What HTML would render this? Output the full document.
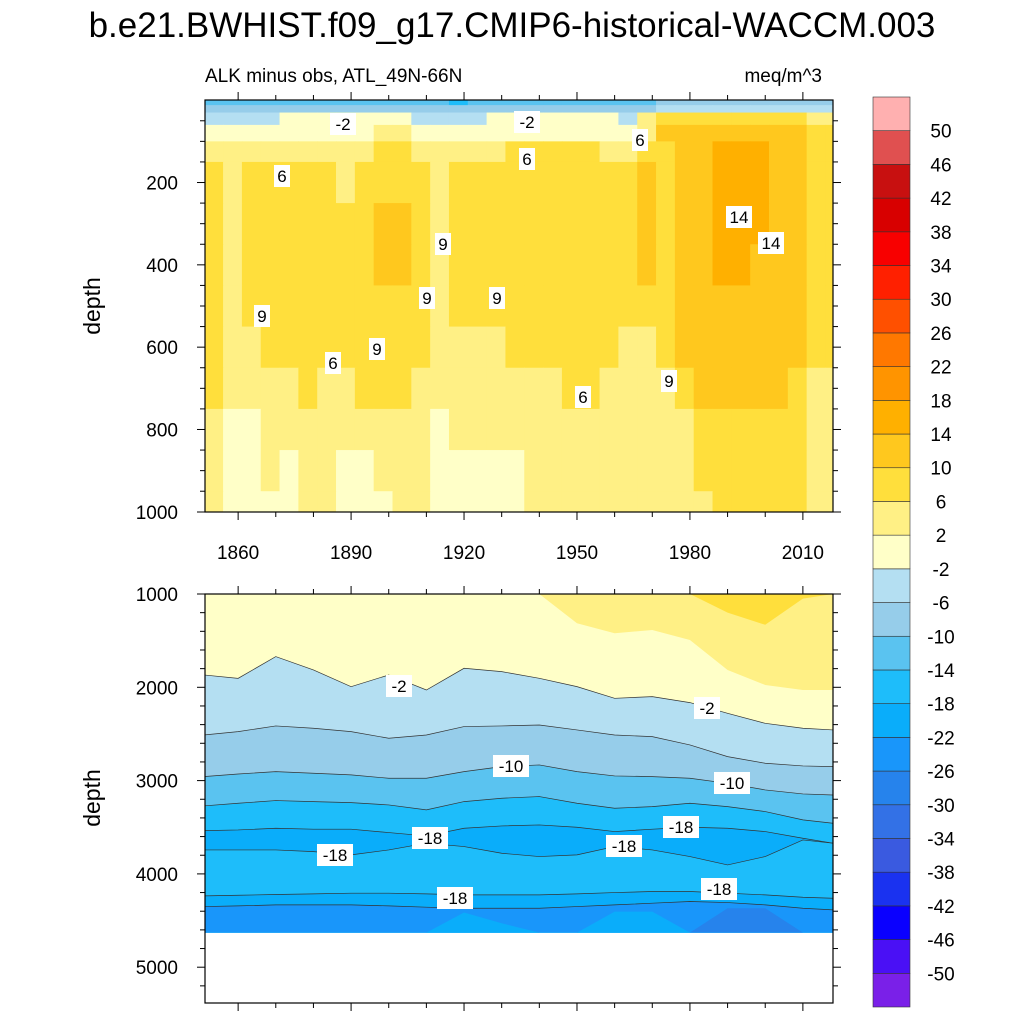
<!DOCTYPE html>
<html><head><meta charset="utf-8"><style>
html,body{margin:0;padding:0;background:#fff;}
svg{display:block;font-family:"Liberation Sans",sans-serif;}
</style></head><body>
<svg id="chart" width="1024" height="1024" viewBox="0 0 1024 1024" xmlns="http://www.w3.org/2000/svg">
<text x="512" y="37" font-size="35" text-anchor="middle">b.e21.BWHIST.f09_g17.CMIP6-historical-WACCM.003</text>
<text x="205" y="82" font-size="19">ALK minus obs, ATL_49N-66N</text>
<text x="822" y="82" font-size="19" text-anchor="end">meq/m^3</text>
<defs>
<clipPath id="clipTop"><rect x="205" y="100" width="628" height="412"/></clipPath>
<clipPath id="clipBot"><rect x="205" y="594" width="628" height="409"/></clipPath>
</defs>
<g id="topData" clip-path="url(#clipTop)"></g>
<g id="botData" clip-path="url(#clipBot)"></g>
<g id="axes"></g>
<g id="labels"></g>
<g id="cbar"></g>
</svg>
<script>
const NS="http://www.w3.org/2000/svg";
// colour levels
const levelBounds=[-50,-46,-42,-38,-34,-30,-26,-22,-18,-14,-10,-6,-2,2,6,10,14,18,22,26,30,34,38,42,46,50];
const levelColors=["#7a20e8","#4a10f5","#0a00ff","#1a32f0","#3a5ae0","#3371e6","#2683ec","#1996fa","#0aadfa","#1ebdfa","#5ac3f0","#96cdea","#b4dff2","#ffffc8","#fff085","#ffdf3c","#ffc81e","#ffb000","#ff9400","#ff7800","#ff5000","#ff2000","#f80000","#d80000","#c81010","#e05050","#ffb0b0"];
// x axis
const xTickYears=[1860,1890,1920,1950,1980,2010];
const topDepthTicks=[200,400,600,800,1000];
const botDepthTicks=[1000,2000,3000,4000,5000];
// upper panel grid: columns start years, depth edges, values per depth row
const topColStart=[1851,1856,1861,1866,1871,1876,1881,1886,1891,1896,1901,1906,1911,1916,1921,1926,1931,1936,1941,1946,1951,1956,1961,1966,1971,1976,1981,1986,1991,1996,2001,2006,2011,2016];
const topDepthEdges=[0,12,30,60,100,150,250,350,450,550,650,750,850,950,1000];
const topR0=[-12,-12,-12,-12,-12,-12,-12,-12,-12,-12,-12,-12,-12,-16,-12,-12,-12,-12,-12,-12,-12,-12,-12,-12,-8,-8,-8,-8,-8,-8,-8,-8,-8,-8];
const topR1=[-8,-8,-8,-8,-8,-8,-8,-8,-8,-8,-8,-8,-8,-8,-8,-8,-8,-8,-8,-8,-8,-8,-8,-8,-4,-4,-4,-4,-4,-4,-4,-4,-4,-4];
const topR2=[-4,-4,-4,-4,0,0,0,0,0,0,0,-4,-4,-4,-4,0,0,0,0,0,0,0,-4,4,8,8,8,8,8,8,8,8,4,4];
const topR3=[0,0,0,0,0,0,0,0,0,4,4,0,0,0,0,0,0,0,0,0,0,0,0,4,12,12,12,12,12,12,12,12,8,8];
const topR4=[4,4,4,4,4,4,4,4,4,8,8,4,4,4,4,4,8,8,8,8,8,4,4,8,8,12,12,16,16,16,12,12,8,8];
const topR5=[8,4,8,8,8,8,8,4,8,8,8,8,4,8,8,8,8,8,8,8,8,8,8,12,8,12,12,16,16,16,12,12,8,8];
const topR6=[8,4,8,8,8,8,8,8,8,12,12,8,4,8,8,8,8,8,8,8,8,8,8,12,8,12,12,16,16,16,12,12,8,8];
const topR7=[8,4,8,8,8,8,8,8,8,12,12,8,4,8,8,8,8,8,8,8,8,8,8,12,8,12,12,16,16,12,12,12,8,8];
const topR8=[8,4,8,8,8,8,8,8,8,8,8,8,4,8,8,8,8,8,8,8,8,8,8,8,8,12,12,12,12,12,12,12,8,8];
const topR9=[8,4,4,8,8,8,8,8,8,8,8,8,4,4,4,4,8,8,8,8,8,8,4,4,8,12,12,12,12,12,12,12,8,8];
const topR10=[8,4,4,4,4,8,4,4,8,8,8,4,4,4,4,4,4,4,4,8,8,4,4,4,4,8,12,12,12,12,12,8,4,4];
const topR11=[4,0,0,4,4,4,4,4,4,4,4,4,0,4,4,4,4,4,4,4,4,4,4,4,4,4,8,8,8,8,8,8,4,4];
const topR12=[4,0,0,4,0,4,4,0,0,4,4,4,0,0,0,0,0,4,4,4,4,4,4,4,4,4,8,8,8,8,8,8,4,4];
const topR13=[4,0,0,0,0,4,4,0,0,0,4,4,0,0,0,0,0,4,4,4,4,4,4,4,4,4,4,8,8,8,8,8,4,4];
const topRows=[topR0,topR1,topR2,topR3,topR4,topR5,topR6,topR7,topR8,topR9,topR10,topR11,topR12,topR13];
// lower panel: contour depths at sample years
const botYears=[1851,1860,1870,1880,1890,1900,1910,1920,1930,1940,1950,1960,1970,1980,1990,2000,2010,2018];
const botC0=[1000,1000,1000,1000,1000,1000,1000,1000,1000,1000,1314,1421,1386,1493,1814,1975,2029,2029];
const botC0b=[1000,1000,1000,1000,1000,1000,1000,1000,1000,1000,1000,1000,1000,1000,1200,1330,1050,1000];
const botC1=[1868,1904,1671,1814,1993,1868,2029,1796,1832,1904,1993,2118,2100,2164,2279,2386,2439,2457];
const botC2=[2511,2475,2414,2439,2475,2546,2511,2421,2414,2404,2457,2511,2529,2618,2743,2814,2843,2850];
const botC3=[2957,2929,2904,2921,2939,2975,2975,2904,2850,2832,2904,2950,2957,2975,3029,3100,3143,3154];
const botC4=[3271,3243,3214,3225,3236,3261,3314,3225,3189,3171,3243,3296,3279,3243,3279,3332,3421,3457];
const botC5=[3536,3529,3511,3521,3521,3557,3593,3511,3486,3475,3500,3546,3521,3500,3511,3546,3618,3671];
const botC6=[3743,3743,3743,3761,3796,3743,3671,3707,3779,3814,3796,3707,3743,3814,3904,3814,3636,3671];
const botC7=[4236,4229,4221,4214,4207,4207,4214,4225,4225,4225,4214,4200,4189,4189,4207,4225,4250,4261];
const botC8=[4350,4343,4332,4332,4332,4343,4357,4368,4368,4368,4350,4332,4314,4296,4307,4332,4368,4386];
const botC9=[4630,4630,4630,4630,4630,4630,4630,4414,4529,4630,4630,4404,4404,4630,4630,4630,4630,4630];
const botC10=[4630,4630,4630,4630,4630,4630,4630,4630,4630,4630,4630,4630,4630,4630,4368,4368,4630,4630];
const botBelowBounds=[botC1,botC2,botC3,botC4,botC5,botC6,botC7,botC8,botC9,botC10];
const botBelowValues=[-4,-8,-12,-16,-20,-16,-20,-24,-20,-28];
const botLineBounds=[botC1,botC2,botC3,botC4,botC5,botC6,botC7,botC8];

const X0=205,X1=833,YR0=1851.2,YR1=2018;
const xs=y=>X0+(y-YR0)*(X1-X0)/(YR1-YR0);
const yT=d=>100.2+d*0.4116;
const yB=d=>594+(d-1000)*0.0933;
const dataBottom=4630;
function colorOf(v){let i=0;while(i<levelBounds.length&&v>=levelBounds[i])i++;return levelColors[i];}
function mk(tag,attrs,parent){const e=document.createElementNS(NS,tag);for(const k in attrs)e.setAttribute(k,attrs[k]);parent.appendChild(e);return e;}

// upper panel cells
const gT=document.getElementById('topData');
topRows.forEach((row,r)=>{row.forEach((v,c)=>{
  const x=xs(topColStart[c]),w=xs(topColStart[c]+5)-x;
  const y=yT(topDepthEdges[r]),h=yT(topDepthEdges[r+1])-y;
  const e=mk('rect',{x:x.toFixed(2),y:y.toFixed(2),width:(w+0.6).toFixed(2),height:(h+0.6).toFixed(2),fill:colorOf(v)},gT);
  
  
});});

// lower panel
const gB=document.getElementById('botData');
function ptsOf(arr){return botYears.map((yr,i)=>xs(yr).toFixed(2)+','+yB(arr[i]).toFixed(2));}
const base=mk('rect',{x:X0,y:yB(1000),width:X1-X0,height:yB(dataBottom)-yB(1000),fill:colorOf(0)},gB);


[[botC0,4],[botC0b,8]].forEach(([arr,v])=>{
  const p=ptsOf(arr);
  const poly=mk('polygon',{points:xs(botYears[0])+','+yB(1000)+' '+p.join(' ')+' '+xs(botYears[botYears.length-1])+','+yB(1000),fill:colorOf(v)},gB);
  
  
});
botBelowBounds.forEach((arr,k)=>{
  const p=ptsOf(arr);
  const poly=mk('polygon',{points:p.join(' ')+' '+xs(botYears[botYears.length-1])+','+yB(dataBottom)+' '+xs(botYears[0])+','+yB(dataBottom),fill:colorOf(botBelowValues[k])},gB);
  
  
});
botLineBounds.forEach(arr=>{
  const l=mk('polyline',{points:ptsOf(arr).join(' '),fill:'none',stroke:'#333',"stroke-width":0.7},gB);
  
  
});

// axes
const gA=document.getElementById('axes');
function line(x1,y1,x2,y2,p,w){return mk('line',{x1,y1,x2,y2,stroke:'#000','stroke-width':w||1},p);}
function frame(yTop,yBot,name){
  const r=mk('rect',{x:X0,y:yTop,width:X1-X0,height:yBot-yTop,fill:'none',stroke:'#000','stroke-width':1.2},gA);
  
  
  for(let yr=1860;yr<=2010;yr+=10){
    const x=xs(yr),major=xTickYears.includes(yr),L=major?8:5;
    line(x,yBot,x,yBot+L,gA);line(x,yTop,x,yTop-L,gA);
  }
}
frame(100,512,'upper-plot-frame');
frame(594,1003,'lower-plot-frame');
for(let d=50;d<1000;d+=50){const y=yT(d),L=d%200===0?8:5;line(X0,y,X0-L,y,gA);line(X1,y,X1+L,y,gA);}
for(let d=1200;d<=5375;d+=200){const y=yB(d),L=d%1000===0?8:5;line(X0,y,X0-L,y,gA);line(X1,y,X1+L,y,gA);}
line(X0,512,X0-8,512,gA);line(X1,512,X1+8,512,gA);line(X0,594,X0-8,594,gA);line(X1,594,X1+8,594,gA);
topDepthTicks.forEach(d=>{const t=mk('text',{x:178,y:yT(d)+7,'font-size':19,'text-anchor':'end'},gA);t.textContent=d;
  
  });
botDepthTicks.forEach(d=>{const t=mk('text',{x:178,y:yB(d)+7,'font-size':19,'text-anchor':'end'},gA);t.textContent=d;
  
  });
xTickYears.forEach(yr=>{const t=mk('text',{x:xs(yr),y:559,'font-size':19,'text-anchor':'middle'},gA);t.textContent=yr;
  
  });
[[306,'upper-y-axis-title'],[798,'lower-y-axis-title']].forEach(([cy,nm])=>{
  const t=mk('text',{x:0,y:0,'font-size':23,'text-anchor':'middle',transform:`translate(100,${cy}) rotate(-90)`},gA);t.textContent='depth';
  
  });

// contour labels
const gL=document.getElementById('labels');
const labelTexts=["-2","-2","6","6","6","14","14","9","9","9","9","6","9","6","9","-2","-2","-10","-10","-18","-18","-18","-18","-18","-18"];
const labelPos=[[343,124],[527,122],[527,159],[640,140],[282,176],[739,217],[771,243],[443,244],[427,298],[497,298],[262,316],[333,363],[377,349],[583,397],[669,381],[399,686],[707,708],[511,766],[732,783],[430,838],[335,855],[624,846],[681,827],[455,898],[719,889]];
labelTexts.forEach((s,i)=>{
  const [cx,cy]=labelPos[i];const w=s.length*10+6;
  const g=mk('g',{},gL);
  
  
  mk('rect',{x:cx-w/2,y:cy-11,width:w,height:22,fill:'#fff'},g);
  const t=mk('text',{x:cx,y:cy+6,'font-size':17,'text-anchor':'middle'},g);t.textContent=s;
});

// colorbar
const gC=document.getElementById('cbar');
const CB0=97,CB1=1007,n=levelColors.length,bh=(CB1-CB0)/n;
for(let i=0;i<n;i++){
  const y=CB1-(i+1)*bh;
  const r=mk('rect',{x:873,y:y.toFixed(2),width:37,height:bh.toFixed(2),fill:levelColors[i],stroke:'#333','stroke-width':0.6},gC);
  
  
}
levelBounds.forEach((b,i)=>{
  const y=CB1-(i+1)*bh;
  const t=mk('text',{x:941,y:y+7,'font-size':19,'text-anchor':'middle'},gC);t.textContent=b;
  
  
});
</script>
</body></html>
